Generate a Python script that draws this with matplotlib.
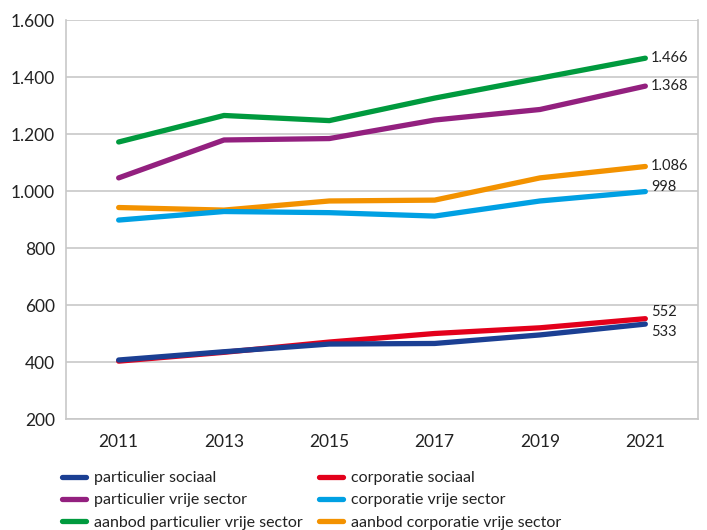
import matplotlib
matplotlib.use("Agg")
import matplotlib.pyplot as plt
import numpy as np

plt.rcParams['font.family'] = ['Lato', 'DejaVu Sans']

years = ["2011", "2013", "2015", "2017", "2019", "2021"]
particulier_sociaal = [407, 436, 463, 465, 495, 533]
corporatie_sociaal = [403, 434, 470, 500, 520, 552]
particulier_vrije = [1046, 1179, 1184, 1249, 1286, 1368]
corporatie_vrije = [898, 928, 924, 912, 965, 998]
aanbod_particulier = [1172, 1265, 1247, 1326, 1396, 1466]
aanbod_corporatie = [942, 933, 965, 968, 1046, 1086]
end_labels = ["533", "552", "1.368", "998", "1.466", "1.086"]

series = [
    ("particulier sociaal", particulier_sociaal, "#1b3f93"),
    ("corporatie sociaal", corporatie_sociaal, "#e3001b"),
    ("particulier vrije sector", particulier_vrije, "#93207f"),
    ("corporatie vrije sector", corporatie_vrije, "#00a0e3"),
    ("aanbod particulier vrije sector", aanbod_particulier, "#009a3e"),
    ("aanbod corporatie vrije sector", aanbod_corporatie, "#f39200"),
]

fig = plt.figure(figsize=(7.07, 5.30), dpi=100)
ax = fig.add_axes([66/707, 1-419/530, (698-66)/707, (419-20)/530])
x = np.arange(len(years))
draw_order = [2, 4, 5, 3, 1, 0]
handles = {}
for i in draw_order:
    name, vals, col = series[i]
    h, = ax.plot(x, vals, color=col, lw=3.8, solid_capstyle='round', label=name)
    handles[i] = h

offsets = {0: -6, 1: 5, 2: 0, 3: 3, 4: 0, 5: 0}
for i, (name, vals, col) in enumerate(series):
    ax.annotate(end_labels[i], (x[-1], vals[-1]), xytext=(4, offsets[i]),
                textcoords='offset points', va='center', ha='left', fontsize=10.5, color='#222222')

ax.set_xlim(-0.5, len(years) - 0.5)
ax.set_ylim(200, 1600)
ax.set_yticks(range(200, 1601, 200))
ax.set_yticklabels(["200", "400", "600", "800", "1.000", "1.200", "1.400", "1.600"])
ax.set_xticks(x)
ax.set_xticklabels(years)
ax.tick_params(axis='both', length=0, labelsize=12.5, colors='#222222')
ax.tick_params(axis='x', pad=11)
ax.tick_params(axis='y', pad=8)
ax.grid(axis='y', color='#c8c8c8', lw=1.2)
ax.set_axisbelow(True)
ax.spines['top'].set_visible(False)
for s in ['left', 'right', 'bottom']:
    ax.spines[s].set_color('#c8c8c8')
    ax.spines[s].set_linewidth(1.2)

leg_order = [0, 2, 4, 1, 3, 5]
leg = fig.legend([handles[i] for i in leg_order], [series[i][0] for i in leg_order],
                 ncol=2, loc='upper left', bbox_to_anchor=(62/707, 1-471/530),
                 frameon=False, fontsize=11.5, handlelength=1.5, handletextpad=0.5,
                 columnspacing=1.05, labelspacing=0.5, borderaxespad=0, borderpad=0)
for t in leg.get_texts():
    t.set_color('#222222')

fig.savefig("out.png", dpi=100)
